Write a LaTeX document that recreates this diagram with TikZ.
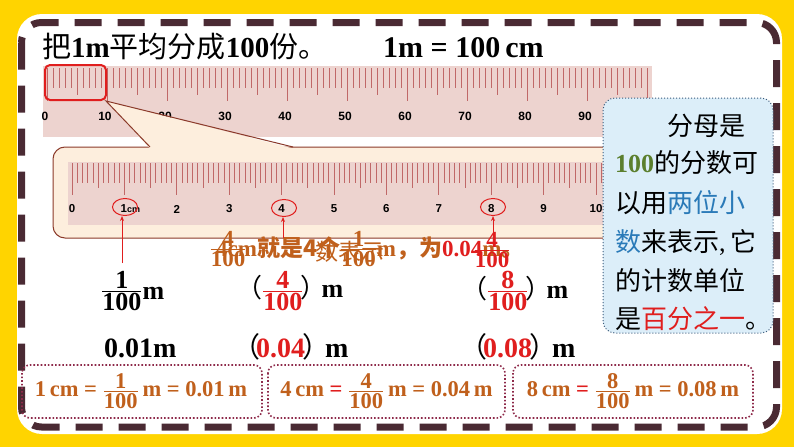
\documentclass[tikz,border=0pt]{standalone}
\usepackage{fontspec}
\usepackage{amsmath}
\usetikzlibrary{shapes.geometric,arrows.meta}
\setmainfont{Liberation Serif}
\newfontfamily\cjk{Noto Sans CJK SC}
\newfontfamily\rulerfont{Liberation Sans}
\newcommand\fr[2]{\ensuremath{\genfrac{}{}{1.1pt}{1}{\mbox{#1}}{\mbox{#2}}}}
\newcommand\zh[1]{{\cjk #1}}
\newcommand\lp{{\mdseries\color{black}\cjk （}}
\newcommand\rp{\hspace{-3pt}{\mdseries\color{black}\cjk ）}\hspace{-5pt}}
\definecolor{bgyellow}{HTML}{FFD400}
\definecolor{bordercol}{HTML}{4A2A33}
\definecolor{rulerpink}{HTML}{EDD3CF}
\definecolor{tickcol}{HTML}{C06868}
\definecolor{calloutfill}{HTML}{FDEEDD}
\definecolor{calloutline}{HTML}{8B3A2A}
\definecolor{markred}{HTML}{E01E1E}
\definecolor{boxblue}{HTML}{DCEEF9}
\definecolor{boxblueline}{HTML}{3A5A7A}
\definecolor{txtgreen}{HTML}{5B7F2E}
\definecolor{txtblue}{HTML}{2A7AB8}
\definecolor{txtorange}{HTML}{C0601C}
\definecolor{dotbox}{HTML}{8E2A4A}
\tikzset{
  tickline/.style={draw=tickcol,line width=0.8},
  bigtxt/.style={font=\fontsize{29}{34}\selectfont},
  rowtxt/.style={font=\fontsize{26}{30}\selectfont\bfseries},
  rowtxtb/.style={font=\fontsize{28}{32}\selectfont\bfseries},
  bluetxt/.style={font=\fontsize{26}{30}\selectfont,anchor=base west,inner sep=0},
  eqtxt/.style={font=\fontsize{22.5}{26}\selectfont\bfseries,text=txtorange},
  redring/.style={draw=markred,ellipse,line width=1,inner sep=0},
  redarrow/.style={draw=markred,line width=1,-{Stealth[length=5,width=4]}},
  dotframe/.style={draw=dotbox,line width=1.6,dotted,rounded corners=8},
}
\begin{document}
\begin{tikzpicture}[x=1pt,y=-1pt]
\useasboundingbox (0,0) rectangle (794,447);
\fill[bgyellow] (0,0) rectangle (794,447);
% white panel
\fill[white,rounded corners=25] (17,14) rectangle (782,434);
\draw[bordercol,line width=7,dash pattern=on 27 off 16,rounded corners=20] (21.5,22.5) rectangle (776.5,427);
% big ruler
\fill[rulerpink] (43,66) rectangle (652,137);
\foreach \i in {0,...,100}{
  \pgfmathsetmacro\l{mod(\i,10)==0 ? 33 : (mod(\i,5)==0 ? 27 : 20)}
  \draw[tickline] (47+6*\i,68) -- ++(0,\l);
}
\foreach \i in {0,10,...,90}{
  \node[font=\rulerfont\bfseries\fontsize{12}{14}\selectfont,inner sep=0] at (45+6*\i,116) {\i};
}
\draw[markred,line width=2,rounded corners=5] (45,65) rectangle (106,100);
% callout
\fill[calloutfill,rounded corners=12] (53,147) rectangle (660,238);
\draw[calloutline,line width=1,rounded corners=12] (53,147) rectangle (660,238);
\fill[calloutfill] (150,148.5) -- (106,101) -- (293,148.5) -- cycle;
\draw[calloutline,line width=1] (150,147) -- (106,101) -- (293,147);
% small ruler
\fill[rulerpink] (68,162) rectangle (660,225);
\foreach \i in {0,...,105}{
  \pgfmathsetmacro\l{mod(\i,10)==0 ? 32 : (mod(\i,5)==0 ? 25 : 20)}
  \draw[tickline] (72+5.24*\i,163) -- ++(0,\l);
}
\foreach \i in {0,2,3,4,5,6,7,8,9,10}{
  \node[font=\rulerfont\bfseries\fontsize{11.5}{13}\selectfont,inner sep=0] at (72+52.4*\i,209) {\i};
}
\node[font=\rulerfont\bfseries\fontsize{11.5}{13}\selectfont,inner sep=0,anchor=west] at (120.5,209) {1\fontsize{9}{10}\selectfont cm};
\node[redring,minimum width=25,minimum height=17] (e1) at (125,207) {};
\node[redring,minimum width=25,minimum height=17] (e4) at (284,208) {};
\node[redring,minimum width=25,minimum height=17] (e8) at (493,207) {};
% blue box
\fill[boxblue,rounded corners=12] (603,98) rectangle (773,333);
\draw[boxblueline,line width=1,dotted,rounded corners=12] (603,98) rectangle (773,333);
\node[bluetxt] (b1) at (667,135) {\zh{分母是}};
\node[bluetxt] (b2) at (615,172) {\textcolor{txtgreen}{\textbf{100}}\zh{的分数可}};
\node[bluetxt] (b3) at (615,212) {\zh{以用\textcolor{txtblue}{两位小}}};
\node[bluetxt] (b4) at (615,251) {\zh{\textcolor{txtblue}{数}来表示}\rmfamily,\,\zh{它}};
\node[bluetxt] (b5) at (615,290) {\zh{的计数单位}};
\node[bluetxt] (b6) at (615,328) {\zh{是\textcolor{markred}{百分之一}。}};
% top texts
\node[bigtxt,anchor=base west,inner sep=0] (t1) at (42,57) {\zh{把}\textbf{1m}\zh{平均分成}\textbf{100}\zh{份。}};
\node[font=\fontsize{30}{34}\selectfont\bfseries,anchor=base west,inner sep=0] (t2) at (383,57) {1m = 100\,cm};
% overlapping orange explanation
\node[font=\fontsize{23}{26}\selectfont\bfseries,text=txtorange,anchor=base west,inner sep=0] (o1) at (216,256)
  {4cm\zh{就是4个}\fr{1}{100}m\zh{，为}\textcolor{markred}{0.04}m\zh{。}};
\node[font=\fontsize{23}{26}\selectfont\bfseries,text=txtorange,inner sep=0] (o2) at (228,249) {\fr{4}{100}};
\node[font=\fontsize{23}{26}\selectfont,text=txtorange,inner sep=0] (o3) at (350,252) {\zh{数表示}};
\node[font=\fontsize{23}{26}\selectfont\bfseries,text=markred,inner sep=0] (o4) at (492,250) {\fr{4}{100}};
% row 2
\node[rowtxt,anchor=west,inner sep=0] (r1) at (101,291) {\fr{1}{100}\raisebox{-2pt}{m}};
\node[rowtxt,anchor=west,inner sep=0] (r2) at (236,291) {\lp\textcolor{markred}{\fr{4}{100}}\rp m};
\node[rowtxt,anchor=west,inner sep=0] (r3) at (461,291) {\lp\textcolor{markred}{\fr{8}{100}}\rp m};
% row 3
\node[rowtxtb,anchor=base west,inner sep=0] (s1) at (104,357) {0.01m};
\node[rowtxtb,anchor=base west,inner sep=0] (s2) at (232,357) {\lp\hspace{-4pt}\textcolor{markred}{0.04}\rp m};
\node[rowtxtb,anchor=base west,inner sep=0] (s3) at (459,357) {\lp\hspace{-4pt}\textcolor{markred}{0.08}\rp m};
% arrows
\coordinate (a1) at (122,263);
\coordinate (a4) at (283,238);
\coordinate (a8) at (493,241);
\draw[redarrow] (a1) -- (a1 |- e1.south);
\draw[redarrow] (a4) -- (a4 |- e4.south);
\draw[redarrow] (a8) -- (e8.south);
% bottom boxes
\draw[dotframe] (22,365) rectangle (262,418);
\draw[dotframe] (268,365) rectangle (505,418);
\draw[dotframe] (513,365) rectangle (753,418);
\node[eqtxt] (q1) at (141,391) {1\,cm = \fr{1}{100}\,m = 0.01\,m};
\node[eqtxt] (q2) at (386.5,391) {4\,cm \textcolor{markred}{=} \fr{4}{100}\,m = 0.04\,m};
\node[eqtxt] (q3) at (633,391) {8\,cm \textcolor{markred}{=} \fr{8}{100}\,m = 0.08\,m};
\end{tikzpicture}
\end{document}
